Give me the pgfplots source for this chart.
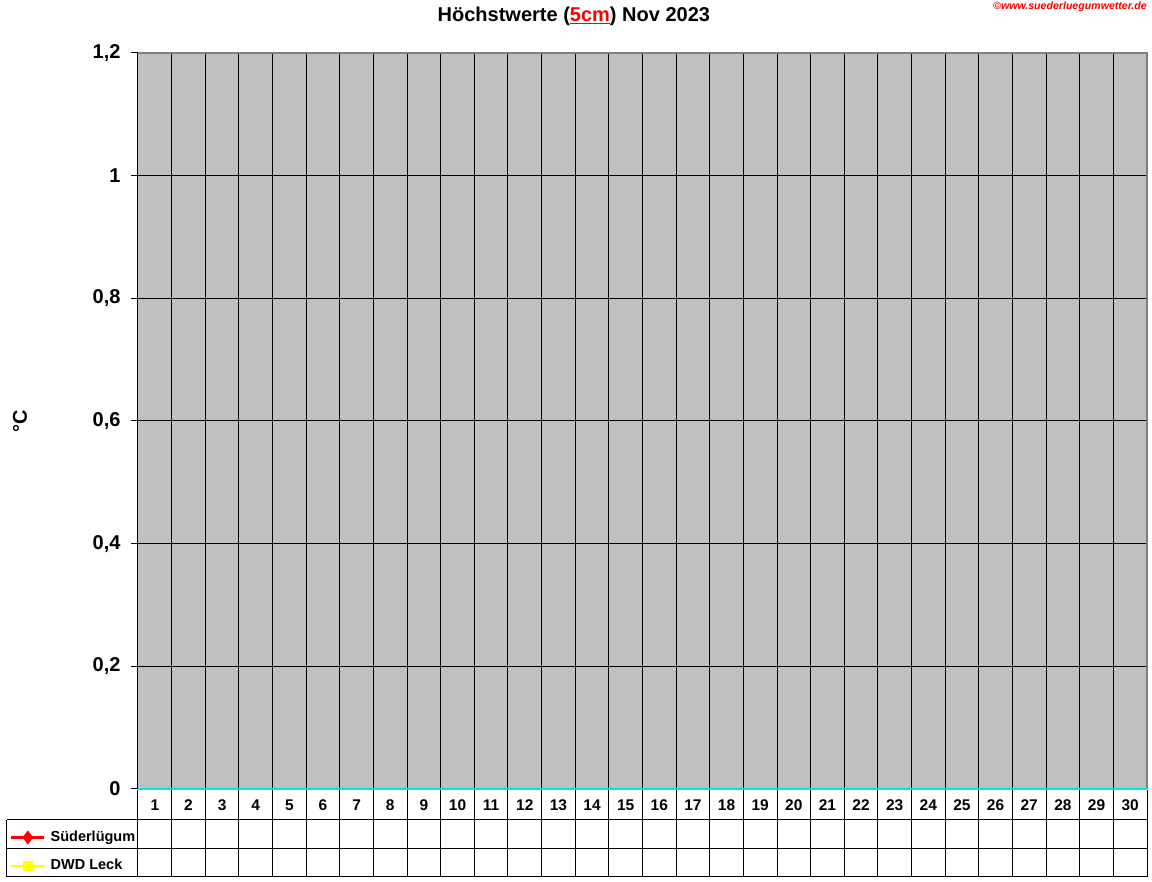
\documentclass[border=0pt]{standalone}
\usepackage{fontspec}
\setmainfont{Liberation Sans}
\usepackage{pgfplots}
\pgfplotsset{compat=1.18}

\definecolor{plotgray}{RGB}{192,192,192}
\definecolor{framegray}{RGB}{128,128,128}
\definecolor{zeroline}{RGB}{0,230,230}
\definecolor{dwdyellow}{RGB}{255,255,0}

\begin{document}
\begin{tikzpicture}
\useasboundingbox (-138pt,-93pt) rectangle (1014pt,789pt);
\begin{axis}[
    at={(0pt,0pt)}, anchor=south west,
    scale only axis, width=1009pt, height=736pt,
    xmin=0.5, xmax=30.5, ymin=0, ymax=1.2,
    clip=false,
    axis background/.style={fill=plotgray},
    axis line style={draw=none},
    xtick={1,...,30},
    minor x tick num=1,
    xminorgrids, ymajorgrids,
    minor x grid style={black, line width=1pt},
    major grid style={black, line width=1pt},
    ytick={0,0.2,0.4,0.6,0.8,1,1.2},
    ytick pos=left,
    /pgf/number format/.cd, use comma, assume math mode=true, /pgfplots/.cd,
    tick align=outside,
    major tick length=7pt,
    minor tick length=0pt,
    ytick style={black, line width=1pt},
    xtick style={draw=none},
    yticklabel style={font=\fontsize{20}{22}\selectfont\bfseries, xshift=-7pt},
    xticklabel style={font=\fontsize{15.5}{17}\selectfont\bfseries, anchor=center, yshift=-9pt},
    ylabel={°C},
    ylabel style={at={(axis description cs:-0.117,0.5)}, anchor=center, font=\fontsize{20}{22}\selectfont\bfseries},
    title={Höchstwerte (\textcolor{red}{\underline{5cm}}) Nov 2023},
    title style={at={(axis description cs:0.432,1.042)}, anchor=center, font=\fontsize{20}{22}\selectfont\bfseries},
    legend style={at={(axis description cs:-0.1269,-0.0852)}, anchor=west,
        draw=none, fill=none, inner sep=0pt, row sep=14.5pt, column sep=5pt,
        font=\fontsize{14.5}{17}\selectfont\bfseries,
        nodes={inner sep=0pt, text height=11pt, text depth=3pt}},
    legend cell align=left,
    legend image code/.code={
        \draw[#1, mark=none] (0pt,0pt) -- (33pt,0pt);
        \draw[#1, only marks] plot coordinates {(16.5pt,0pt)};
    },
]
\addlegendimage{red, line width=2.5pt, mark=diamond*, mark size=5pt, mark options={solid, fill=red}}
\addlegendentry{Süderlügum}
\addlegendimage{dwdyellow, line width=2.5pt, mark=square*, mark size=4pt, mark options={solid, fill=dwdyellow}}
\addlegendentry{DWD Leck}

% frame of the plot area
\draw[black, line width=1pt] (rel axis cs:0,0) -- (rel axis cs:0,1);
\draw[framegray, line width=1.2pt] (rel axis cs:0,1) -- (rel axis cs:1,1) -- (rel axis cs:1,0);
\draw[zeroline, line width=2.2pt] (rel axis cs:0,0) -- (rel axis cs:1,0);
\end{axis}

% data table below the chart
\foreach \i in {0,...,30}
    \draw[black, line width=1pt] (\i*33.6333pt,-1pt) -- (\i*33.6333pt,-88pt);
\draw[black, line width=1pt] (-131pt,-31pt) -- (1009pt,-31pt);
\draw[black, line width=1pt] (-131pt,-60pt) -- (1009pt,-60pt);
\draw[black, line width=1pt] (-131pt,-88pt) -- (1009pt,-88pt);
\draw[black, line width=1pt] (-131pt,-31pt) -- (-131pt,-88pt);

\node[anchor=west, text=red, inner sep=0pt, font=\fontsize{10.6}{12}\selectfont\bfseries\itshape]
    at (855pt,782pt) {©www.suederluegumwetter.de};
\end{tikzpicture}
\end{document}
